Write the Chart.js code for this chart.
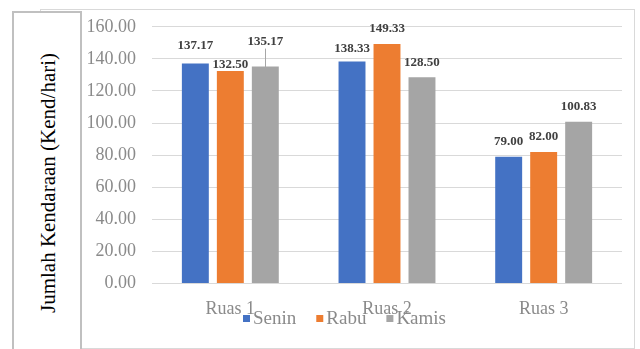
<!DOCTYPE html>
<html lang="en">
<head>
  <meta charset="UTF-8">
  <title>Jumlah Kendaraan</title>
  <script src="https://cdn.jsdelivr.net/npm/chart.js@4.4.1/dist/chart.umd.min.js"></script>
  <style>
    html, body { margin: 0; padding: 0; background: #fff; }
    .wrap { position: relative; width: 640px; height: 349px; overflow: hidden; }
    .outer { position: absolute; left: 40px; top: 9px; width: 595px; height: 340px; border: 1px solid #d9d9d9; box-sizing: border-box; }
    .side { position: absolute; left: 12px; top: 11px; width: 70px; height: 350px; border: 2px solid #c0c0c0; background: #fff; box-sizing: border-box; }
    .ytitle { position: absolute; left: 48px; top: 183px; transform: translate(-50%, -50%) rotate(-90deg);
              font: 21px/1 "Liberation Serif", "Times New Roman", serif; color: #000; white-space: nowrap; }
    canvas { position: absolute; left: 0; top: 0; }
  </style>
</head>
<body>
  <div class="wrap">
    <div class="outer"></div>
    <div class="side"></div>
    <div class="ytitle">Jumlah Kendaraan (Kend/hari)</div>
    <canvas id="chart" width="640" height="349"></canvas>
  </div>

  <script>
  const categories = ['Ruas 1', 'Ruas 2', 'Ruas 3'];
  const senin = [137.17, 138.33, 79.00];
  const rabu  = [132.50, 149.33, 82.00];
  const kamis = [135.17, 128.50, 100.83];
  const yTicks = [0, 20, 40, 60, 80, 100, 120, 140, 160];

  const serif = "'Times New Roman', 'Liberation Serif', serif";

  // how far each value label sits above its bar (dataset-index), default 15
  const labelLift = { '0-0': 18, '1-0': 6, '2-0': 25, '0-1': 13 };

  const valueLabels = {
    id: 'valueLabels',
    afterDatasetsDraw(chart) {
      const ctx = chart.ctx;
      ctx.save();
      ctx.font = 'bold 13px ' + serif;
      ctx.fillStyle = '#404040';
      ctx.textAlign = 'center';
      ctx.textBaseline = 'middle';
      chart.data.datasets.forEach((ds, i) => {
        chart.getDatasetMeta(i).data.forEach((bar, j) => {
          const lift = labelLift[i + '-' + j] ?? 15;
          const y = bar.y - lift;
          ctx.fillText(ds.data[j].toFixed(2), bar.x, y);
          if (lift > 20) {
            ctx.strokeStyle = '#a6a6a6';
            ctx.lineWidth = 1;
            ctx.beginPath();
            ctx.moveTo(Math.round(bar.x) + 0.5, y + 7);
            ctx.lineTo(Math.round(bar.x) + 0.5, bar.y + 2);
            ctx.stroke();
          }
        });
      });
      ctx.restore();
    }
  };

  // Excel-like legend, sitting just under the category labels
  const bottomLegend = {
    id: 'bottomLegend',
    afterDraw(chart) {
      const ctx = chart.ctx;
      ctx.save();
      ctx.font = 'normal 19px ' + serif;
      ctx.textBaseline = 'alphabetic';
      ctx.textAlign = 'left';
      let x = 243;
      chart.data.datasets.forEach(ds => {
        ctx.fillStyle = ds.backgroundColor;
        ctx.fillRect(x, 315, 7, 7);
        ctx.fillStyle = '#8a8a8a';
        ctx.fillText(ds.label, x + 10, 324);
        x += 10 + ctx.measureText(ds.label).width + 20;
      });
      ctx.restore();
    }
  };

  function draw() {
    new Chart(document.getElementById('chart'), {
      type: 'bar',
      data: {
        labels: categories,
        datasets: [
          { label: 'Senin', data: senin, backgroundColor: '#4472C4' },
          { label: 'Rabu', data: rabu, backgroundColor: '#ED7D31' },
          { label: 'Kamis', data: kamis, backgroundColor: '#A5A5A5' }
        ]
      },
      options: {
        responsive: false,
        animation: false,
        categoryPercentage: 0.67,
        barPercentage: 0.77,
        layout: { padding: { left: 84, right: 18, top: 25, bottom: 14 } },
        plugins: {
          legend: { display: false },
          tooltip: { enabled: false }
        },
        scales: {
          x: {
            grid: { display: false, drawTicks: false },
            border: { display: false },
            ticks: { padding: 15, color: '#8a8a8a', font: { family: serif, size: 18, weight: 'normal' } }
          },
          y: {
            min: 0,
            max: 160,
            afterFit: s => { s.width = 68; },
            afterBuildTicks: s => { s.ticks = yTicks.map(v => ({ value: v })); },
            grid: { color: '#d9d9d9', drawTicks: false },
            border: { display: false },
            ticks: {
              padding: 16,
              color: '#8a8a8a',
              font: { family: serif, size: 18, weight: 'normal' },
              callback: v => v.toFixed(2)
            }
          }
        }
      },
      plugins: [valueLabels, bottomLegend]
    });
  }

  Promise.all([
    document.fonts.load("18px 'Times New Roman'"),
    document.fonts.load("bold 13px 'Times New Roman'")
  ]).then(draw, draw);
  </script>
</body>
</html>
